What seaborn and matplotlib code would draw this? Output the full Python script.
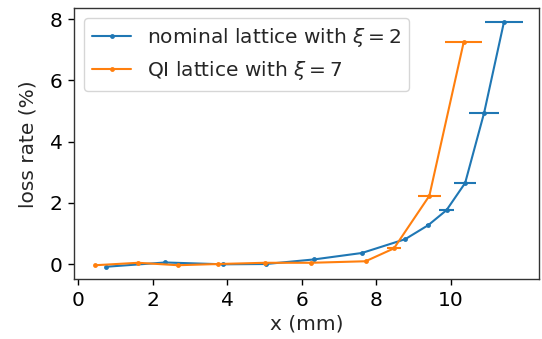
import numpy as np
import pandas as pd
import matplotlib
matplotlib.use("Agg")
import matplotlib.pyplot as plt
import seaborn as sns

# nominal lattice with xi = 2
nom_x = [0.75, 2.34, 3.90, 5.04, 6.33, 7.61, 8.77, 9.39, 9.88, 10.38, 10.89, 11.42]
nom_y = [-0.09, 0.05, -0.01, 0.0, 0.15, 0.36, 0.81, 1.27, 1.76, 2.65, 4.95, 7.91]
nom_xerr = [0.0, 0.0, 0.0, 0.0, 0.0, 0.0, 0.03, 0.05, 0.19, 0.29, 0.41, 0.50]

# QI lattice with xi = 7
qi_x = [0.46, 1.61, 2.68, 3.76, 5.01, 6.25, 7.71, 8.47, 9.42, 10.34]
qi_y = [-0.04, 0.04, -0.04, 0.0, 0.04, 0.04, 0.09, 0.51, 2.23, 7.25]
qi_xerr = [0.0, 0.0, 0.0, 0.0, 0.0, 0.0, 0.0, 0.19, 0.30, 0.49]

labels = [r"nominal lattice with $\xi = 2$", r"QI lattice with $\xi = 7$"]

sns.set_theme(style="ticks")
plt.rcParams['font.family'] = ['DejaVu Sans']
plt.rcParams['mathtext.fontset'] = 'dejavusans'

colors = ["#1f77b4", "#ff7f0e"]
df = pd.concat([
    pd.DataFrame({"x": nom_x, "y": nom_y, "series": labels[0]}),
    pd.DataFrame({"x": qi_x, "y": qi_y, "series": labels[1]}),
])

fig = plt.figure(figsize=(5.42, 3.39), dpi=100)
ax = fig.add_axes([74.3 / 542, 1 - 279.3 / 339, (539 - 74.3) / 542, (279.3 - 8.3) / 339])

sns.lineplot(data=df, x="x", y="y", hue="series", palette=colors, marker=".",
             markersize=7, markeredgewidth=0, linewidth=1.5, sort=False,
             estimator=None, ax=ax)
ax.errorbar(nom_x, nom_y, xerr=nom_xerr, fmt="none", ecolor=colors[0], elinewidth=1.5)
ax.errorbar(qi_x, qi_y, xerr=qi_xerr, fmt="none", ecolor=colors[1], elinewidth=1.5)

ax.set_xlim(-0.1, 12.36)
ax.set_ylim(-0.5, 8.36)
ax.set_xticks([0, 2, 4, 6, 8, 10])
ax.set_yticks([0, 2, 4, 6, 8])
ax.tick_params(labelsize=14.5, length=4, width=1, colors="black", pad=4.5)
ax.set_xlabel("x (mm)", fontsize=14.5, labelpad=3)
ax.set_ylabel("loss rate (%)", fontsize=14.5, labelpad=9)
for s in ax.spines.values():
    s.set_visible(True)
    s.set_color("#333333")
    s.set_linewidth(1.0)

leg = ax.legend(loc="upper left", fontsize=14.5, frameon=True, handlelength=1.9)
leg.set_title(None)

fig.savefig("out.png", dpi=100)
